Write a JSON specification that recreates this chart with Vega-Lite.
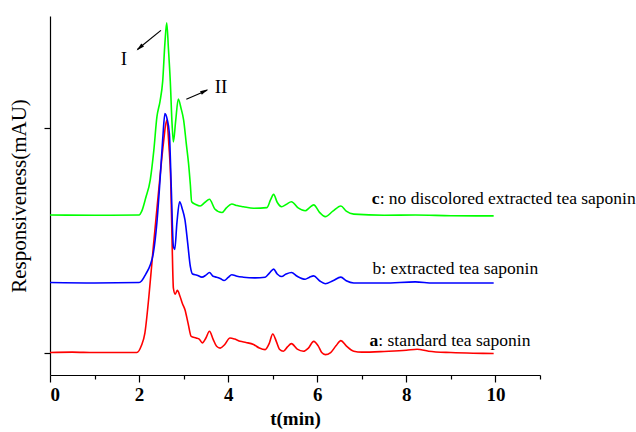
{
  "$schema": "https://vega.github.io/schema/vega-lite/v6.json",
  "width": 490,
  "height": 359,
  "autosize": {"type": "none"},
  "padding": {"left": 50, "top": 16, "right": 96, "bottom": 57},
  "background": "white",
  "config": {
    "view": {"stroke": null},
    "font": "Liberation Serif",
    "axis": {"domainColor": "black", "tickColor": "black", "grid": false, "labelColor": "black", "titleColor": "black", "domainWidth": 1.2, "tickWidth": 1.2}
  },
  "datasets": {
    "curves": [
      {"s":"a","t":0,"v":0},{"s":"a","t":0.5,"v":0.02},{"s":"a","t":1.0,"v":0},{"s":"a","t":1.5,"v":0},{"s":"a","t":1.95,"v":0},{"s":"a","t":2.05,"v":0.3},{"s":"a","t":2.13,"v":0.87},{"s":"a","t":2.22,"v":2.5},{"s":"a","t":2.32,"v":4.72},{"s":"a","t":2.4,"v":6.4},{"s":"a","t":2.47,"v":7.84},{"s":"a","t":2.55,"v":9.4},{"s":"a","t":2.62,"v":10.36},{"s":"a","t":2.67,"v":9.2},{"s":"a","t":2.71,"v":7.69},{"s":"a","t":2.74,"v":5.0},{"s":"a","t":2.77,"v":2.87},{"s":"a","t":2.81,"v":2.6},{"s":"a","t":2.86,"v":2.77},{"s":"a","t":2.92,"v":2.5},{"s":"a","t":2.97,"v":2.2},{"s":"a","t":3.03,"v":1.91},{"s":"a","t":3.1,"v":1.3},{"s":"a","t":3.17,"v":0.72},{"s":"a","t":3.28,"v":0.65},{"s":"a","t":3.35,"v":0.6},{"s":"a","t":3.42,"v":0.43},{"s":"a","t":3.5,"v":0.65},{"s":"a","t":3.58,"v":0.95},{"s":"a","t":3.66,"v":0.6},{"s":"a","t":3.74,"v":0.28},{"s":"a","t":3.82,"v":0.2},{"s":"a","t":3.92,"v":0.35},{"s":"a","t":4.04,"v":0.65},{"s":"a","t":4.15,"v":0.6},{"s":"a","t":4.27,"v":0.5},{"s":"a","t":4.4,"v":0.45},{"s":"a","t":4.57,"v":0.36},{"s":"a","t":4.7,"v":0.2},{"s":"a","t":4.83,"v":0.13},{"s":"a","t":4.92,"v":0.4},{"s":"a","t":5.0,"v":0.83},{"s":"a","t":5.08,"v":0.5},{"s":"a","t":5.15,"v":0.15},{"s":"a","t":5.24,"v":0.06},{"s":"a","t":5.33,"v":0.25},{"s":"a","t":5.42,"v":0.4},{"s":"a","t":5.55,"v":0.15},{"s":"a","t":5.69,"v":0.06},{"s":"a","t":5.8,"v":0.2},{"s":"a","t":5.92,"v":0.5},{"s":"a","t":6.02,"v":0.3},{"s":"a","t":6.1,"v":0.0},{"s":"a","t":6.18,"v":-0.09},{"s":"a","t":6.3,"v":0.0},{"s":"a","t":6.42,"v":0.3},{"s":"a","t":6.53,"v":0.53},{"s":"a","t":6.65,"v":0.3},{"s":"a","t":6.82,"v":0.06},{"s":"a","t":7.0,"v":0.02},{"s":"a","t":7.5,"v":0.05},{"s":"a","t":8.0,"v":0.1},{"s":"a","t":8.24,"v":0.15},{"s":"a","t":8.5,"v":0.06},{"s":"a","t":9.0,"v":0.0},{"s":"a","t":9.5,"v":-0.03},{"s":"a","t":9.96,"v":-0.04},
      {"s":"b","t":0,"v":3.12},{"s":"b","t":1,"v":3.1},{"s":"b","t":2.0,"v":3.12},{"s":"b","t":2.06,"v":3.2},{"s":"b","t":2.15,"v":3.5},{"s":"b","t":2.25,"v":3.9},{"s":"b","t":2.32,"v":4.43},{"s":"b","t":2.4,"v":5.8},{"s":"b","t":2.47,"v":7.69},{"s":"b","t":2.53,"v":9.5},{"s":"b","t":2.58,"v":10.65},{"s":"b","t":2.63,"v":10.4},{"s":"b","t":2.68,"v":9.76},{"s":"b","t":2.72,"v":7.5},{"s":"b","t":2.77,"v":4.72},{"s":"b","t":2.8,"v":4.6},{"s":"b","t":2.85,"v":5.8},{"s":"b","t":2.91,"v":6.72},{"s":"b","t":2.97,"v":6.4},{"s":"b","t":3.03,"v":5.91},{"s":"b","t":3.09,"v":4.9},{"s":"b","t":3.15,"v":3.84},{"s":"b","t":3.2,"v":3.5},{"s":"b","t":3.3,"v":3.45},{"s":"b","t":3.41,"v":3.36},{"s":"b","t":3.5,"v":3.45},{"s":"b","t":3.58,"v":3.57},{"s":"b","t":3.66,"v":3.4},{"s":"b","t":3.74,"v":3.36},{"s":"b","t":3.82,"v":3.3},{"s":"b","t":3.91,"v":3.21},{"s":"b","t":4.0,"v":3.35},{"s":"b","t":4.08,"v":3.47},{"s":"b","t":4.2,"v":3.4},{"s":"b","t":4.34,"v":3.36},{"s":"b","t":4.6,"v":3.33},{"s":"b","t":4.83,"v":3.36},{"s":"b","t":4.93,"v":3.55},{"s":"b","t":5.02,"v":3.72},{"s":"b","t":5.1,"v":3.5},{"s":"b","t":5.2,"v":3.39},{"s":"b","t":5.3,"v":3.5},{"s":"b","t":5.42,"v":3.57},{"s":"b","t":5.55,"v":3.4},{"s":"b","t":5.73,"v":3.27},{"s":"b","t":5.82,"v":3.35},{"s":"b","t":5.92,"v":3.42},{"s":"b","t":6.05,"v":3.2},{"s":"b","t":6.18,"v":3.07},{"s":"b","t":6.35,"v":3.2},{"s":"b","t":6.53,"v":3.36},{"s":"b","t":6.65,"v":3.2},{"s":"b","t":6.82,"v":3.1},{"s":"b","t":7.5,"v":3.1},{"s":"b","t":8.2,"v":3.15},{"s":"b","t":8.6,"v":3.1},{"s":"b","t":9.96,"v":3.1},
      {"s":"c","t":0,"v":6.13},{"s":"c","t":1,"v":6.12},{"s":"c","t":2.0,"v":6.13},{"s":"c","t":2.06,"v":6.3},{"s":"c","t":2.15,"v":6.9},{"s":"c","t":2.25,"v":7.69},{"s":"c","t":2.33,"v":9.0},{"s":"c","t":2.4,"v":10.5},{"s":"c","t":2.47,"v":11.2},{"s":"c","t":2.53,"v":12.1},{"s":"c","t":2.58,"v":13.8},{"s":"c","t":2.62,"v":14.7},{"s":"c","t":2.66,"v":13.5},{"s":"c","t":2.7,"v":12.1},{"s":"c","t":2.74,"v":10.2},{"s":"c","t":2.77,"v":9.39},{"s":"c","t":2.82,"v":10.3},{"s":"c","t":2.88,"v":11.3},{"s":"c","t":2.94,"v":10.9},{"s":"c","t":3.0,"v":10.36},{"s":"c","t":3.06,"v":9.3},{"s":"c","t":3.11,"v":8.43},{"s":"c","t":3.15,"v":7.5},{"s":"c","t":3.18,"v":6.72},{"s":"c","t":3.27,"v":6.6},{"s":"c","t":3.37,"v":6.53},{"s":"c","t":3.48,"v":6.7},{"s":"c","t":3.58,"v":6.83},{"s":"c","t":3.7,"v":6.4},{"s":"c","t":3.86,"v":6.24},{"s":"c","t":3.96,"v":6.45},{"s":"c","t":4.08,"v":6.62},{"s":"c","t":4.2,"v":6.55},{"s":"c","t":4.34,"v":6.5},{"s":"c","t":4.57,"v":6.43},{"s":"c","t":4.87,"v":6.46},{"s":"c","t":4.95,"v":6.8},{"s":"c","t":5.02,"v":7.05},{"s":"c","t":5.1,"v":6.7},{"s":"c","t":5.2,"v":6.5},{"s":"c","t":5.3,"v":6.6},{"s":"c","t":5.42,"v":6.72},{"s":"c","t":5.57,"v":6.45},{"s":"c","t":5.73,"v":6.32},{"s":"c","t":5.82,"v":6.45},{"s":"c","t":5.92,"v":6.58},{"s":"c","t":6.05,"v":6.25},{"s":"c","t":6.18,"v":6.06},{"s":"c","t":6.35,"v":6.3},{"s":"c","t":6.53,"v":6.53},{"s":"c","t":6.65,"v":6.3},{"s":"c","t":6.82,"v":6.17},{"s":"c","t":7.5,"v":6.12},{"s":"c","t":8.2,"v":6.13},{"s":"c","t":9.0,"v":6.1},{"s":"c","t":9.96,"v":6.09}
    ],
    "arrows": [
      {"name":"I","x":2.49,"y":14.36,"x2":1.96,"y2":13.51,"hx":2.02,"hy":13.6,"tx":1.66,"ty":13.07},
      {"name":"II","x":3.06,"y":11.29,"x2":3.53,"y2":11.69,"hx":3.46,"hy":11.64,"tx":3.84,"ty":11.82}
    ],
    "labels": [
      {"s":"c","letter":"c","rest":": no discolored extracted tea saponin","x":7.4,"y":6.84},
      {"s":"b","letter":"","rest":"b: extracted tea saponin","x":7.24,"y":3.73},
      {"s":"a","letter":"a","rest":": standard tea saponin","x":7.37,"y":0.53}
    ]
  },
  "layer": [
    {
      "data": {"name": "curves"},
      "mark": {"type": "line", "strokeWidth": 1.6, "interpolate": "monotone"},
      "encoding": {
        "x": {"field": "t", "type": "quantitative", "scale": {"domain": [0, 11], "nice": false},
          "axis": {"title": "t(min)", "values": [0,1,2,3,4,5,6,7,8,9,10,11],
            "labelExpr": "datum.value % 2 === 0 ? datum.label : ''",
            "tickSize": {"condition": {"test": "datum.value % 2 === 0", "value": 7}, "value": 4},
            "labelFont": "Liberation Serif", "labelFontSize": 19, "labelFontWeight": "bold", "labelPadding": 3,
            "titleFont": "Liberation Serif", "titleFontSize": 19, "titleFontWeight": "bold", "titlePadding": 5}},
        "y": {"field": "v", "type": "quantitative", "scale": {"domain": [-1, 15], "nice": false, "zero": false},
          "axis": {"title": "Responsiveness(mAU)", "values": [0, 10], "labels": false, "tickSize": 6,
            "titleFont": "Liberation Serif", "titleFontSize": 21, "titleFontWeight": "normal", "titlePadding": 14}},
        "color": {"field": "s", "type": "nominal", "scale": {"domain": ["a","b","c"], "range": ["#ff0000","#0000ff","#00ff00"]}, "legend": null},
        "order": {"field": "t", "type": "quantitative"}
      }
    },
    {
      "data": {"name": "arrows"},
      "mark": {"type": "rule", "color": "black", "strokeWidth": 1.2},
      "encoding": {
        "x": {"field": "x", "type": "quantitative"},
        "y": {"field": "y", "type": "quantitative"},
        "x2": {"field": "x2"},
        "y2": {"field": "y2"}
      }
    },
    {
      "data": {"name": "arrows"},
      "transform": [{"filter": "datum.name === 'I'"}],
      "mark": {"type": "point", "shape": "M0,-1L0.45,0.8L-0.45,0.8Z", "filled": true, "fill": "black", "stroke": null, "size": 80, "angle": 228, "opacity": 1},
      "encoding": {
        "x": {"field": "hx", "type": "quantitative"},
        "y": {"field": "hy", "type": "quantitative"}
      }
    },
    {
      "data": {"name": "arrows"},
      "transform": [{"filter": "datum.name === 'II'"}],
      "mark": {"type": "point", "shape": "M0,-1L0.45,0.8L-0.45,0.8Z", "filled": true, "fill": "black", "stroke": null, "size": 80, "angle": 63, "opacity": 1},
      "encoding": {
        "x": {"field": "hx", "type": "quantitative"},
        "y": {"field": "hy", "type": "quantitative"}
      }
    },
    {
      "data": {"name": "arrows"},
      "mark": {"type": "text", "font": "Liberation Serif", "fontSize": 19, "color": "black", "align": "center", "baseline": "middle"},
      "encoding": {
        "x": {"field": "tx", "type": "quantitative"},
        "y": {"field": "ty", "type": "quantitative"},
        "text": {"field": "name"}
      }
    },
    {
      "data": {"name": "labels"},
      "mark": {"type": "text", "font": "Liberation Serif", "fontSize": 17.5, "fontWeight": "bold", "color": "black", "align": "right", "baseline": "middle"},
      "encoding": {
        "x": {"field": "x", "type": "quantitative"},
        "y": {"field": "y", "type": "quantitative"},
        "text": {"field": "letter"}
      }
    },
    {
      "data": {"name": "labels"},
      "mark": {"type": "text", "font": "Liberation Serif", "fontSize": 17.5, "color": "black", "align": "left", "baseline": "middle"},
      "encoding": {
        "x": {"field": "x", "type": "quantitative"},
        "y": {"field": "y", "type": "quantitative"},
        "text": {"field": "rest"}
      }
    }
  ]
}
